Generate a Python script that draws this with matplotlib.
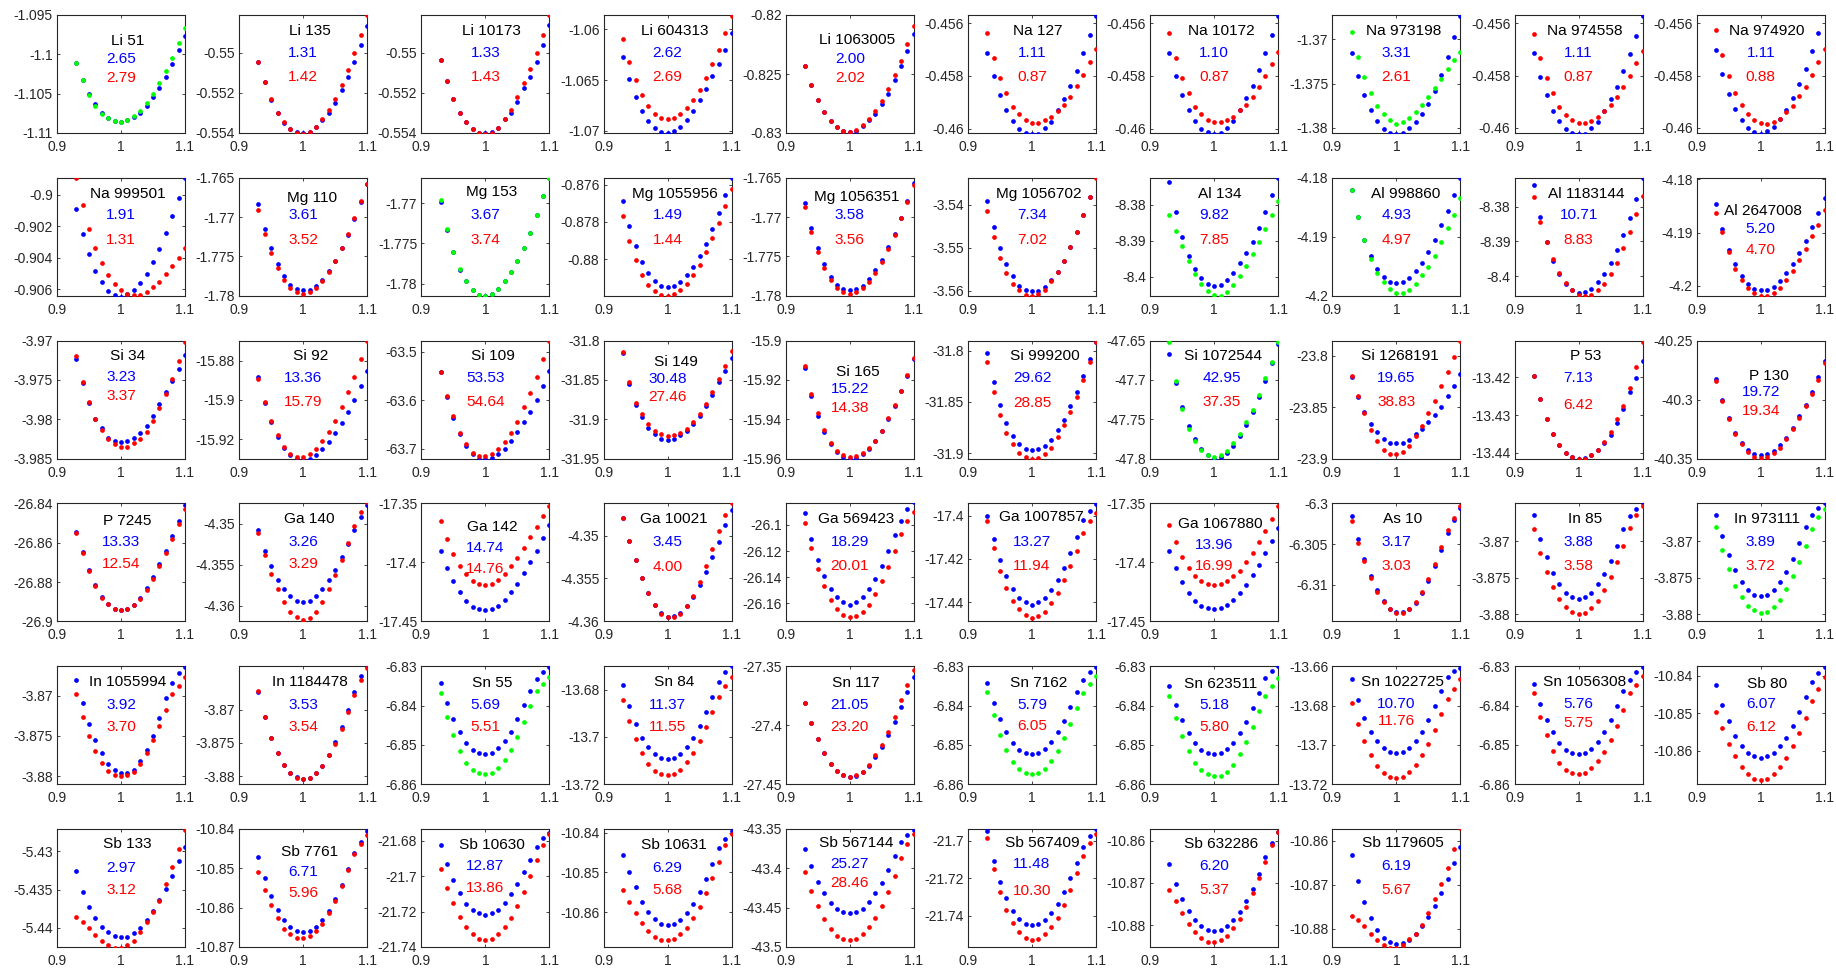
import matplotlib
matplotlib.use("Agg")
import matplotlib.pyplot as plt

# lattice scale factor (x axis)
scale = [0.93, 0.94, 0.95, 0.96, 0.97, 0.98, 0.99, 1.00, 1.01,
         1.02, 1.03, 1.04, 1.05, 1.06, 1.07, 1.08, 1.09, 1.10]

panel_names = [
    "Li 51", "Li 135", "Li 10173", "Li 604313", "Li 1063005",
    "Na 127", "Na 10172", "Na 973198", "Na 974558", "Na 974920",
    "Na 999501", "Mg 110", "Mg 153", "Mg 1055956", "Mg 1056351",
    "Mg 1056702", "Al 134", "Al 998860", "Al 1183144", "Al 2647008",
    "Si 34", "Si 92", "Si 109", "Si 149", "Si 165",
    "Si 999200", "Si 1072544", "Si 1268191", "P 53", "P 130",
    "P 7245", "Ga 140", "Ga 142", "Ga 10021", "Ga 569423",
    "Ga 1007857", "Ga 1067880", "As 10", "In 85", "In 973111",
    "In 1055994", "In 1184478", "Sn 55", "Sn 84", "Sn 117",
    "Sn 7162", "Sn 623511", "Sn 1022725", "Sn 1056308", "Sb 80",
    "Sb 133", "Sb 7761", "Sb 10630", "Sb 10631", "Sb 567144",
    "Sb 567409", "Sb 632286", "Sb 1179605",
]

bulk_blue = [2.65, 1.31, 1.33, 2.62, 2.00, 1.11, 1.10, 3.31, 1.11, 1.11,
             1.91, 3.61, 3.67, 1.49, 3.58, 7.34, 9.82, 4.93, 10.71, 5.20,
             3.23, 13.36, 53.53, 30.48, 15.22, 29.62, 42.95, 19.65, 7.13, 19.72,
             13.33, 3.26, 14.74, 3.45, 18.29, 13.27, 13.96, 3.17, 3.88, 3.89,
             3.92, 3.53, 5.69, 11.37, 21.05, 5.79, 5.18, 10.70, 5.76, 6.07,
             2.97, 6.71, 12.87, 6.29, 25.27, 11.48, 6.20, 6.19]

bulk_red = [2.79, 1.42, 1.43, 2.69, 2.02, 0.87, 0.87, 2.61, 0.87, 0.88,
            1.31, 3.52, 3.74, 1.44, 3.56, 7.02, 7.85, 4.97, 8.83, 4.70,
            3.37, 15.79, 54.64, 27.46, 14.38, 28.85, 37.35, 38.83, 6.42, 19.34,
            12.54, 3.29, 14.76, 4.00, 20.01, 11.94, 16.99, 3.03, 3.58, 3.72,
            3.70, 3.54, 5.51, 11.55, 23.20, 6.05, 5.80, 11.76, 5.75, 6.12,
            3.12, 5.96, 13.86, 5.68, 28.46, 10.30, 5.37, 5.67]

# second series colour: 'r' red, 'g' green
second_color = ["g", "r", "r", "r", "r", "r", "r", "g", "r", "r",
                "r", "r", "g", "r", "r", "r", "g", "g", "r", "r",
                "r", "r", "r", "r", "r", "r", "g", "r", "r", "r",
                "r", "r", "r", "r", "r", "r", "r", "r", "r", "g",
                "r", "r", "g", "r", "r", "g", "g", "r", "r", "r",
                "r", "r", "r", "r", "r", "r", "r", "r"]

# reference energy (lower axis limit) and upper axis limit, eV
e_base = [-1.11, -0.554, -0.554, -1.0702, -0.83, -0.46017, -0.46017, -1.3806, -0.4602, -0.4602,
          -0.90643, -1.78, -1.7815, -0.88196, -1.78, -3.5612, -8.4053, -4.2, -8.4056, -4.2019,
          -3.985, -15.9299, -63.7207, -31.95, -15.96, -31.9052, -47.8, -23.9, -13.4416, -40.35,
          -26.9, -4.3619, -17.45, -4.36, -26.1738, -17.4489, -17.45, -6.3145, -3.881, -3.881,
          -3.881, -3.8812, -6.86, -13.72, -27.45, -6.86, -6.86, -13.72, -6.86, -10.8689,
          -5.4425, -10.87, -21.74, -10.8688, -43.5, -21.7568, -10.8852, -10.8842]

e_top = [-1.095, -0.5481, -0.5481, -1.0586, -0.82, -0.45568, -0.45568, -1.36723, -0.45568, -0.45568,
         -0.89892, -1.765, -1.76684, -0.87564, -1.765, -3.53368, -8.37245, -4.18, -8.37175, -4.17968,
         -3.97, -15.8698, -63.4772, -31.8, -15.9, -31.7902, -47.65, -23.7854, -13.4102, -40.25,
         -26.84, -4.34751, -17.35, -4.34625, -26.0835, -17.3944, -17.35, -6.3, -3.86477, -3.86477,
         -3.86635, -3.86347, -6.83, -13.67, -27.35, -6.83, -6.83, -13.66, -6.83, -10.8374,
         -5.4271, -10.84, -21.6735, -10.8391, -43.35, -21.6938, -10.8572, -10.8573]

y_ticks = [
    [-1.11, -1.105, -1.1, -1.095], [-0.554, -0.552, -0.55], [-0.554, -0.552, -0.55],
    [-1.07, -1.065, -1.06], [-0.83, -0.825, -0.82], [-0.46, -0.458, -0.456],
    [-0.46, -0.458, -0.456], [-1.38, -1.375, -1.37], [-0.46, -0.458, -0.456],
    [-0.46, -0.458, -0.456],
    [-0.906, -0.904, -0.902, -0.9], [-1.78, -1.775, -1.77, -1.765], [-1.78, -1.775, -1.77],
    [-0.88, -0.878, -0.876], [-1.78, -1.775, -1.77, -1.765], [-3.56, -3.55, -3.54],
    [-8.4, -8.39, -8.38], [-4.2, -4.19, -4.18], [-8.4, -8.39, -8.38], [-4.2, -4.19, -4.18],
    [-3.985, -3.98, -3.975, -3.97], [-15.92, -15.9, -15.88], [-63.7, -63.6, -63.5],
    [-31.95, -31.9, -31.85, -31.8], [-15.96, -15.94, -15.92, -15.9], [-31.9, -31.85, -31.8],
    [-47.8, -47.75, -47.7, -47.65], [-23.9, -23.85, -23.8], [-13.44, -13.43, -13.42],
    [-40.35, -40.3, -40.25],
    [-26.9, -26.88, -26.86, -26.84], [-4.36, -4.355, -4.35], [-17.45, -17.4, -17.35],
    [-4.36, -4.355, -4.35], [-26.16, -26.14, -26.12, -26.1], [-17.44, -17.42, -17.4],
    [-17.45, -17.4, -17.35], [-6.31, -6.305, -6.3], [-3.88, -3.875, -3.87],
    [-3.88, -3.875, -3.87],
    [-3.88, -3.875, -3.87], [-3.88, -3.875, -3.87], [-6.86, -6.85, -6.84, -6.83],
    [-13.72, -13.7, -13.68], [-27.45, -27.4, -27.35], [-6.86, -6.85, -6.84, -6.83],
    [-6.86, -6.85, -6.84, -6.83], [-13.72, -13.7, -13.68, -13.66],
    [-6.86, -6.85, -6.84, -6.83], [-10.86, -10.85, -10.84],
    [-5.44, -5.435, -5.43], [-10.87, -10.86, -10.85, -10.84], [-21.74, -21.72, -21.7, -21.68],
    [-10.86, -10.85, -10.84], [-43.5, -43.45, -43.4, -43.35], [-21.74, -21.72, -21.7],
    [-10.88, -10.87, -10.86], [-10.88, -10.87, -10.86],
]

# energies of the blue series, meV above e_base
blue_mev = [
    [8.92, 6.71, 5.0, 3.7, 2.6, 1.9, 1.5, 1.42, 1.6, 2.0, 2.59, 3.48, 4.55, 5.78, 7.18, 8.8, 10.5, 12.37],
    [3.55, 2.55, 1.66, 1.0, 0.52, 0.2, 0.03, 0.0, 0.06, 0.28, 0.66, 1.01, 1.51, 2.13, 2.78, 3.56, 4.41, 5.33],
    [3.64, 2.58, 1.70, 1.01, 0.53, 0.21, 0.01, -0.02, 0.03, 0.27, 0.70, 1.01, 1.56, 2.23, 2.78, 3.57, 4.41, 5.42],
    [7.43, 5.26, 3.55, 2.17, 1.18, 0.53, 0.07, 0.0, 0.16, 0.59, 1.25, 2.17, 3.22, 4.37, 5.59, 6.83, 8.15, 9.79],
    [5.67, 4.05, 2.78, 1.76, 1.02, 0.51, 0.14, 0.06, 0.2, 0.57, 1.1, 1.64, 2.44, 3.34, 4.48, 5.67, 6.97, 8.39],
    [3.05, 2.16, 1.44, 0.86, 0.46, 0.17, 0.0, -0.05, -0.03, 0.18, 0.43, 0.86, 1.31, 1.78, 2.37, 3.03, 3.73, 4.46],
    [3.05, 2.16, 1.44, 0.86, 0.46, 0.17, 0.02, -0.03, 0.0, 0.2, 0.45, 0.88, 1.33, 1.8, 2.38, 3.03, 3.73, 4.46],
    [9.11, 6.45, 4.29, 2.58, 1.37, 0.49, 0.0, -0.15, 0.0, 0.53, 1.2, 2.1, 3.3, 4.8, 6.6, 8.6, 10.9, 13.3],
    [3.05, 2.16, 1.44, 0.86, 0.46, 0.17, 0.0, -0.05, -0.03, 0.18, 0.43, 0.86, 1.31, 1.78, 2.37, 3.03, 3.73, 4.48],
    [3.17, 2.25, 1.48, 0.92, 0.48, 0.2, 0.03, -0.03, 0.07, 0.24, 0.55, 0.88, 1.35, 1.86, 2.46, 3.14, 3.84, 4.62],
    [5.53, 3.92, 2.63, 1.61, 0.86, 0.32, 0.04, -0.06, 0.11, 0.37, 0.80, 1.4, 2.13, 2.99, 3.98, 5.06, 6.24, 7.51],
    [11.64, 8.53, 6.03, 4.09, 2.5, 1.42, 0.86, 0.69, 0.78, 1.29, 2.07, 3.15, 4.44, 6.03, 7.76, 9.74, 11.9, 14.2],
    [11.64, 8.14, 5.4, 3.25, 1.8, 0.76, 0.15, 0.0, 0.25, 0.84, 1.81, 2.95, 4.34, 5.91, 7.85, 10.04, 12.36, 14.68],
    [5.08, 3.74, 2.65, 1.82, 1.2, 0.78, 0.54, 0.47, 0.51, 0.73, 1.09, 1.56, 2.11, 2.78, 3.56, 4.41, 5.38, 6.32],
    [11.77, 8.62, 6.03, 4.01, 2.41, 1.42, 0.86, 0.69, 0.86, 1.29, 2.16, 3.28, 4.57, 6.16, 7.89, 9.91, 12.07, 14.35],
    [22.1, 16.0, 11.1, 7.35, 4.58, 2.37, 1.26, 1.03, 1.19, 2.05, 3.63, 5.53, 8.14, 11.3, 14.85, 18.8, 23.1, 27.6],
    [31.67, 23.19, 16.3, 11.12, 7.35, 5.0, 3.39, 2.83, 3.11, 4.34, 6.41, 9.05, 11.88, 15.08, 18.85, 23.37, 28.09, 32.8],
    [17.99, 13.39, 9.54, 6.67, 4.6, 3.22, 2.41, 2.18, 2.41, 3.05, 4.2, 5.63, 7.47, 9.54, 11.95, 14.37, 17.01, 20.0],
    [31.75, 22.69, 15.39, 10.03, 6.14, 3.51, 1.75, 0.78, 0.97, 1.95, 3.9, 6.14, 9.35, 13.25, 17.53, 22.4, 27.86, 33.9],
    [17.23, 12.63, 8.68, 5.93, 3.7, 2.3, 1.28, 1.02, 1.15, 1.66, 2.74, 4.21, 5.93, 8.04, 10.4, 12.95, 15.5, 18.5],
    [12.66, 9.61, 7.06, 5.01, 3.83, 2.68, 2.25, 2.13, 2.25, 2.68, 3.23, 4.17, 5.44, 6.93, 8.5, 9.9, 11.39, 13.18],
    [41.38, 28.27, 18.39, 11.24, 5.62, 1.7, 0.0, -0.68, 0.0, 1.7, 4.77, 8.52, 12.94, 18.05, 23.84, 29.97, 36.78, 44.79],
    [178.0, 126.2, 84.8, 50.4, 26.2, 9.0, 0.0, -1.4, 1.4, 9.0, 20.7, 36.6, 55.2, 74.5, 96.6, 121.4, 150.4, 181.4],
    [134.0, 95.0, 68.0, 53.5, 39.5, 31.0, 25.5, 23.8, 25.5, 29.7, 35.3, 43.8, 54.4, 67.1, 80.7, 96.9, 111.7, 127.5],
    [45.9, 31.6, 21.8, 13.3, 7.31, 3.4, 1.02, 0.0, 0.51, 2.21, 5.1, 8.84, 13.9, 20.1, 26.9, 34.2, 42.2, 50.7],
    [103.0, 74.9, 52.1, 34.5, 22.2, 14.0, 9.8, 8.5, 9.1, 12.4, 18.2, 28.0, 37.8, 50.8, 65.2, 80.1, 97.1, 114.0],
    [133.0, 96.0, 65.0, 41.6, 24.6, 12.7, 5.0, 0.0, 1.5, 7.5, 16.5, 28.5, 43.0, 59.5, 78.0, 99.0, 121.0, 146.0],
    [78.9, 59.4, 45.4, 33.4, 26.0, 19.5, 15.6, 14.9, 15.6, 18.2, 23.7, 29.2, 35.1, 42.2, 49.7, 60.4, 70.8, 82.1],
    [21.9, 15.8, 10.5, 6.5, 3.56, 1.42, 0.44, 0.0, 0.18, 0.89, 2.31, 4.27, 6.23, 9.4, 13.2, 17.6, 21.4, 26.0],
    [67.4, 49.9, 34.8, 22.1, 13.6, 7.4, 3.7, 2.8, 3.7, 6.5, 11.3, 17.8, 26.3, 35.7, 45.6, 56.1, 68.8, 83.0],
    [45.5, 35.2, 26.2, 18.5, 12.5, 8.8, 6.4, 5.8, 6.4, 8.5, 12.0, 16.8, 22.5, 29.0, 36.0, 43.5, 51.0, 59.0],
    [11.2, 8.63, 6.77, 5.06, 3.92, 3.06, 2.49, 2.34, 2.49, 3.06, 3.9, 5.0, 6.3, 7.8, 9.4, 11.1, 12.7, 14.2],
    [59.9, 45.0, 34.1, 25.2, 17.3, 12.3, 10.3, 9.3, 10.3, 13.3, 18.3, 25.2, 32.1, 41.1, 50.0, 59.9, 70.8, 81.7],
    [12.0, 9.4, 7.1, 5.0, 3.3, 1.9, 0.95, 0.55, 0.6, 1.0, 1.8, 2.8, 4.2, 5.8, 7.5, 9.3, 11.2, 13.0],
    [82.8, 63.1, 46.9, 34.4, 24.5, 18.3, 14.7, 12.9, 14.7, 18.3, 24.5, 32.6, 42.5, 54.2, 65.8, 77.0, 86.0, 91.0],
    [48.9, 38.1, 28.3, 20.8, 14.8, 11.0, 8.9, 7.8, 8.9, 11.0, 14.3, 19.2, 24.6, 31.6, 39.1, 46.7, 51.0, 54.3],
    [59.9, 45.0, 33.1, 24.2, 17.3, 13.3, 11.3, 10.3, 11.3, 14.3, 18.3, 24.2, 31.1, 39.1, 48.0, 57.9, 67.8, 78.8],
    [12.9, 10.1, 7.7, 5.6, 3.8, 2.45, 1.55, 1.1, 1.1, 1.5, 2.3, 3.5, 5.0, 6.8, 8.8, 10.9, 12.4, 13.9],
    [14.62, 11.38, 8.8, 6.69, 5.08, 3.95, 3.3, 3.14, 3.3, 3.95, 5.08, 6.53, 8.31, 10.41, 12.68, 14.46, 15.43, 16.24],
    [14.62, 11.7, 9.12, 7.02, 5.4, 4.27, 3.62, 3.46, 3.62, 4.27, 5.4, 6.86, 8.64, 10.74, 13.0, 14.62, 15.59, 16.24],
    [12.97, 10.08, 7.47, 5.44, 3.85, 2.55, 1.82, 1.39, 1.39, 1.82, 2.84, 4.29, 6.02, 8.19, 10.66, 12.54, 13.84, 14.57],
    [13.9, 10.1, 6.95, 4.7, 2.95, 1.75, 1.05, 0.85, 1.0, 1.7, 2.8, 4.4, 6.3, 8.6, 11.1, 13.8, 16.2, 17.7],
    [25.8, 20.7, 16.5, 13.3, 10.6, 8.8, 7.9, 7.6, 7.9, 9.1, 10.9, 13.3, 16.5, 20.1, 23.7, 26.7, 28.5, 29.9],
    [42.0, 33.0, 25.6, 19.6, 15.7, 12.7, 11.2, 10.7, 11.2, 12.7, 15.7, 19.6, 24.6, 30.6, 37.0, 43.4, 47.4, 50.0],
    [69.0, 52.2, 38.3, 26.4, 17.5, 11.5, 7.5, 6.3, 7.2, 10.0, 15.6, 23.0, 31.5, 41.5, 53.0, 65.5, 78.5, 91.0],
    [25.8, 20.7, 16.5, 13.3, 10.6, 8.8, 7.9, 7.6, 7.9, 9.0, 10.8, 13.2, 16.1, 19.6, 23.4, 26.5, 28.6, 29.9],
    [25.0, 20.2, 16.2, 13.0, 10.5, 8.8, 7.9, 7.6, 7.9, 8.9, 10.6, 13.0, 15.9, 19.4, 23.2, 26.9, 28.8, 30.0],
    [53.3, 42.6, 33.7, 26.5, 21.8, 18.2, 16.4, 15.8, 16.4, 18.2, 21.8, 26.5, 32.5, 39.6, 47.2, 54.5, 57.4, 59.3],
    [25.5, 20.5, 16.4, 13.2, 10.6, 8.8, 7.9, 7.6, 7.9, 9.0, 10.8, 13.2, 16.2, 19.8, 23.6, 26.6, 28.5, 29.9],
    [26.4, 21.1, 16.8, 13.0, 10.2, 8.3, 7.4, 7.1, 7.4, 8.3, 10.2, 12.4, 15.5, 19.3, 23.3, 27.4, 29.6, 31.4],
    [9.93, 7.24, 5.25, 3.75, 2.65, 1.94, 1.46, 1.32, 1.37, 1.77, 2.52, 3.49, 4.72, 6.18, 7.59, 9.31, 11.16, 13.11],
    [22.9, 17.5, 13.0, 9.5, 6.8, 5.0, 4.1, 3.8, 4.1, 5.0, 6.8, 9.2, 12.1, 15.7, 19.9, 24.0, 26.7, 29.4],
    [57.3, 46.7, 37.5, 30.2, 24.3, 21.0, 19.0, 18.3, 19.0, 21.0, 25.0, 29.6, 35.5, 42.1, 49.3, 56.6, 61.2, 64.5],
    [23.2, 18.8, 15.0, 11.4, 8.8, 7.0, 5.8, 5.5, 5.8, 6.7, 8.5, 10.8, 13.8, 17.0, 20.9, 25.0, 27.3, 29.1],
    [124.7, 102.4, 83.0, 68.2, 56.2, 48.8, 44.3, 42.9, 44.3, 48.8, 57.7, 68.2, 81.5, 97.9, 115.8, 133.6, 142.5, 148.5],
    [61.8, 46.1, 34.9, 26.1, 19.3, 14.9, 12.4, 11.8, 12.4, 14.3, 18.0, 23.0, 29.3, 36.8, 44.9, 53.6, 59.3, 63.0],
    [19.7, 14.9, 11.3, 8.6, 6.3, 4.9, 4.1, 3.8, 4.1, 4.9, 6.3, 8.3, 10.8, 13.8, 17.4, 21.3, 24.7, 27.4],
    [20.97, 15.13, 10.21, 6.63, 3.9, 2.1, 1.09, 0.7, 0.86, 1.64, 3.04, 4.68, 6.78, 9.36, 12.24, 15.52, 19.1, 22.77],
]

# energies of the second (red / green) series, meV above e_base
red_mev = [
    [8.92, 6.71, 4.89, 3.48, 2.46, 1.87, 1.49, 1.44, 1.70, 2.17, 2.85, 3.87, 5.01, 6.33, 7.9, 9.56, 11.39, 13.3],
    [3.57, 2.57, 1.68, 1.02, 0.54, 0.20, 0.0, -0.05, 0.05, 0.29, 0.69, 1.14, 1.71, 2.40, 3.15, 3.99, 4.91, 5.89],
    [3.66, 2.60, 1.71, 1.02, 0.54, 0.22, 0.0, -0.03, 0.02, 0.27, 0.72, 1.17, 1.81, 2.48, 3.19, 3.99, 4.91, 5.92],
    [9.2, 7.0, 5.19, 3.78, 2.63, 1.91, 1.51, 1.41, 1.51, 1.91, 2.50, 3.22, 4.27, 5.45, 6.77, 8.2, 9.8, 11.5],
    [5.67, 4.05, 2.78, 1.76, 1.02, 0.51, 0.17, 0.11, 0.28, 0.65, 1.22, 1.87, 2.72, 3.77, 4.9, 6.12, 7.54, 9.07],
    [3.82, 2.87, 2.11, 1.53, 0.99, 0.71, 0.51, 0.38, 0.38, 0.48, 0.59, 0.84, 1.06, 1.37, 1.78, 2.2, 2.71, 3.18],
    [3.8, 2.86, 2.1, 1.52, 0.99, 0.71, 0.51, 0.4, 0.4, 0.48, 0.62, 0.86, 1.08, 1.38, 1.76, 2.15, 2.62, 3.08],
    [11.39, 8.58, 6.30, 4.56, 3.04, 2.13, 1.44, 1.06, 1.21, 1.67, 2.35, 3.19, 4.10, 5.09, 6.15, 7.25, 8.28, 9.22],
    [3.8, 2.86, 2.1, 1.52, 1.0, 0.7, 0.5, 0.37, 0.37, 0.46, 0.6, 0.85, 1.08, 1.38, 1.78, 2.2, 2.68, 3.14],
    [3.93, 2.97, 2.19, 1.55, 1.07, 0.72, 0.5, 0.37, 0.35, 0.43, 0.55, 0.79, 1.05, 1.4, 1.77, 2.23, 2.71, 3.21],
    [7.47, 5.75, 4.28, 3.06, 2.09, 1.33, 0.75, 0.37, 0.11, 0.02, 0.06, 0.26, 0.58, 0.9, 1.4, 1.87, 2.41, 3.06],
    [10.9, 7.89, 5.43, 3.58, 2.07, 0.99, 0.43, 0.26, 0.43, 0.99, 1.85, 3.02, 4.4, 6.03, 7.89, 9.91, 12.07, 14.2],
    [11.94, 8.35, 5.48, 3.29, 1.81, 0.76, 0.13, 0.0, 0.25, 0.84, 1.81, 2.95, 4.34, 5.91, 7.85, 10.04, 12.36, 14.68],
    [4.29, 2.91, 1.92, 1.14, 0.6, 0.24, 0.04, 0.0, 0.07, 0.29, 0.65, 1.09, 1.63, 2.32, 3.09, 3.92, 4.83, 5.74],
    [11.34, 8.10, 5.52, 3.58, 2.07, 0.99, 0.43, 0.26, 0.43, 0.99, 1.81, 2.93, 4.31, 5.95, 7.76, 9.83, 11.9, 14.05],
    [19.75, 13.67, 8.93, 5.37, 2.84, 1.26, 0.24, 0.0, 0.4, 1.42, 3.4, 5.53, 8.14, 11.3, 14.85, 18.8, 23.1, 27.5],
    [22.5, 18.0, 13.8, 9.8, 6.2, 3.3, 1.2, 0.1, 0.0, 1.0, 2.9, 5.4, 8.3, 11.5, 15.0, 18.7, 22.5, 26.4],
    [17.99, 13.39, 9.54, 6.21, 3.91, 2.3, 1.15, 0.46, 0.46, 1.03, 2.07, 3.45, 4.94, 6.78, 9.08, 11.49, 13.68, 16.55],
    [28.25, 21.23, 15.39, 10.52, 6.62, 3.7, 1.56, 0.29, 0.0, 0.29, 1.56, 3.51, 6.14, 9.55, 13.64, 18.31, 23.38, 28.54],
    [15.5, 12.0, 8.29, 5.1, 2.93, 1.47, 0.51, 0.0, 0.0, 0.51, 1.47, 2.93, 4.66, 6.76, 8.8, 11.23, 13.4, 16.14],
    [13.0, 9.78, 7.14, 5.01, 3.65, 2.55, 1.83, 1.53, 1.53, 1.96, 2.47, 3.4, 4.8, 6.38, 8.2, 10.12, 12.45, 14.79],
    [40.5, 28.95, 19.24, 11.92, 6.13, 2.21, 1.02, 1.02, 2.21, 5.11, 9.03, 13.62, 19.24, 26.06, 33.72, 41.38, 50.75, 60.1],
    [178.0, 128.3, 86.9, 52.4, 29.7, 12.4, 5.5, 5.5, 9.0, 19.3, 34.5, 52.4, 75.9, 105.5, 135.2, 167.6, 205.6, 243.5],
    [135.0, 97.0, 70.5, 56.5, 43.8, 35.3, 31.0, 28.9, 29.7, 32.3, 38.2, 45.9, 56.5, 69.3, 85.0, 101.1, 118.1, 137.2],
    [46.9, 32.8, 23.1, 14.6, 8.16, 3.91, 1.7, 1.02, 1.36, 3.06, 5.61, 9.01, 14.1, 20.4, 27.2, 34.5, 42.5, 51.0],
    [94.5, 65.2, 42.4, 25.4, 14.0, 5.9, 2.0, 0.0, 1.0, 4.2, 10.8, 21.5, 32.6, 45.6, 59.6, 76.9, 94.5, 113.4],
    [148.7, 99.0, 62.9, 38.2, 22.5, 11.0, 4.2, 2.5, 4.2, 9.8, 19.5, 31.0, 45.9, 62.0, 80.7, 102.0, 123.2, 148.7],
    [79.9, 60.4, 44.1, 27.9, 17.2, 8.4, 4.2, 4.2, 6.5, 12.3, 22.1, 31.8, 44.1, 56.2, 70.8, 83.7, 98.4, 114.6],
    [21.9, 15.8, 10.5, 6.5, 3.56, 1.42, 0.44, -0.18, 0.0, 0.89, 2.31, 4.45, 7.12, 10.5, 14.1, 18.7, 24.3, 31.1],
    [66.0, 49.0, 33.4, 20.7, 12.2, 5.7, 1.7, 0.85, 1.7, 4.5, 9.4, 16.4, 24.9, 34.8, 44.8, 54.7, 66.9, 81.0],
    [44.9, 34.7, 25.8, 18.1, 12.1, 8.6, 6.2, 5.6, 6.2, 8.2, 11.6, 16.2, 21.8, 28.0, 34.8, 42.0, 49.5, 57.0],
    [10.77, 8.06, 5.77, 3.92, 2.34, 1.2, 0.49, 0.2, 0.45, 1.2, 2.4, 3.9, 5.6, 7.5, 9.6, 11.6, 13.3, 14.5],
    [84.7, 70.0, 56.9, 47.0, 40.1, 34.1, 32.1, 31.1, 32.1, 35.1, 40.1, 47.0, 54.0, 61.9, 71.8, 79.8, 89.7, 97.6],
    [12.0, 9.4, 7.1, 5.0, 3.3, 1.9, 0.9, 0.5, 0.5, 0.9, 1.8, 3.0, 4.6, 6.4, 8.4, 10.5, 12.4, 13.8],
    [75.6, 55.9, 39.8, 27.2, 16.5, 9.3, 4.8, 3.0, 3.9, 7.5, 12.9, 21.0, 30.8, 41.6, 54.2, 66.6, 76.5, 83.6],
    [46.2, 33.7, 23.5, 15.4, 9.4, 5.6, 2.9, 1.8, 2.4, 4.5, 8.3, 13.2, 19.2, 25.6, 32.7, 40.8, 46.2, 50.0],
    [81.7, 66.9, 55.0, 45.0, 38.1, 34.1, 32.1, 31.1, 32.1, 34.1, 38.1, 43.0, 50.0, 57.9, 66.9, 76.8, 86.7, 97.6],
    [12.28, 9.69, 7.39, 5.38, 3.65, 2.36, 1.5, 1.06, 1.06, 1.5, 2.36, 3.65, 5.23, 7.1, 9.12, 11.27, 12.71, 14.15],
    [12.68, 9.44, 6.86, 4.75, 3.14, 2.0, 1.36, 1.03, 1.2, 1.84, 2.81, 4.27, 6.05, 8.15, 10.41, 12.84, 14.62, 15.91],
    [13.0, 9.77, 7.18, 4.92, 3.3, 2.17, 1.52, 1.2, 1.36, 2.0, 2.98, 4.43, 6.21, 8.15, 10.41, 12.68, 14.3, 15.43],
    [11.24, 8.34, 6.02, 4.14, 2.69, 1.68, 1.1, 0.96, 1.1, 1.53, 2.55, 3.85, 5.44, 7.18, 9.21, 11.24, 12.25, 13.26],
    [13.98, 10.11, 6.95, 4.67, 2.91, 1.69, 0.98, 0.81, 0.98, 1.69, 2.74, 4.32, 6.08, 8.36, 10.82, 13.45, 15.73, 17.49],
    [23.1, 17.1, 12.4, 8.5, 5.5, 3.7, 2.9, 2.6, 2.9, 4.0, 6.1, 8.8, 12.1, 15.7, 19.8, 23.7, 25.5, 27.3],
    [35.5, 26.6, 19.1, 13.2, 8.7, 5.8, 4.3, 3.8, 4.3, 6.2, 9.2, 13.2, 18.2, 24.1, 30.6, 37.0, 41.5, 45.4],
    [69.0, 52.2, 38.3, 26.4, 17.5, 11.5, 7.5, 6.5, 7.5, 10.5, 16.5, 24.4, 33.3, 44.2, 57.1, 71.0, 83.9, 96.8],
    [23.4, 17.5, 12.6, 8.7, 5.7, 3.8, 2.9, 2.6, 2.9, 3.9, 5.8, 8.5, 11.8, 15.4, 19.4, 23.3, 25.6, 27.6],
    [22.5, 16.8, 12.2, 8.4, 5.5, 3.6, 2.5, 2.0, 2.2, 3.2, 5.0, 7.6, 10.8, 14.5, 18.5, 22.5, 25.0, 27.0],
    [41.4, 30.7, 21.8, 14.6, 9.3, 5.7, 3.9, 3.3, 3.9, 6.3, 9.9, 14.6, 20.6, 27.7, 35.5, 43.2, 48.6, 53.3],
    [23.1, 17.1, 12.4, 8.5, 5.5, 3.7, 2.9, 2.6, 2.9, 4.0, 5.8, 8.2, 11.2, 14.7, 18.9, 23.1, 25.2, 27.6],
    [19.3, 14.9, 10.8, 7.4, 4.6, 2.7, 1.4, 1.1, 1.4, 2.7, 4.6, 7.1, 10.2, 13.6, 17.7, 22.1, 25.5, 28.6],
    [3.93, 3.22, 2.43, 1.54, 0.75, 0.22, -0.13, -0.13, 0.22, 0.84, 1.94, 3.22, 4.63, 6.05, 8.25, 10.46, 12.8, 15.31],
    [19.0, 14.5, 10.7, 7.4, 4.7, 3.2, 2.3, 2.3, 2.9, 4.1, 5.9, 8.6, 11.8, 15.4, 19.6, 23.7, 26.1, 28.5],
    [44.1, 33.5, 24.9, 17.0, 11.1, 7.1, 4.5, 3.8, 4.5, 7.1, 11.1, 16.4, 23.0, 30.9, 40.1, 49.3, 57.3, 63.9],
    [14.4, 11.4, 8.5, 6.1, 4.1, 2.6, 1.7, 1.7, 2.0, 3.2, 4.9, 7.3, 10.0, 13.5, 17.3, 21.4, 25.6, 28.5],
    [94.9, 71.1, 51.8, 35.4, 23.5, 14.6, 10.1, 8.6, 10.1, 16.1, 25.0, 36.9, 51.8, 69.6, 90.5, 112.8, 130.7, 144.0],
    [58.0, 41.8, 29.3, 19.9, 13.0, 8.0, 4.9, 3.6, 4.3, 6.8, 10.5, 15.5, 22.4, 30.5, 39.3, 48.6, 55.5, 60.5],
    [13.6, 10.8, 8.0, 5.5, 3.6, 2.2, 1.3, 1.3, 1.6, 2.7, 4.4, 6.6, 9.4, 12.7, 16.3, 20.2, 24.1, 27.4],
    [7.17, 6.24, 4.68, 3.04, 1.56, 0.39, -0.23, -0.23, 0.55, 1.72, 3.04, 5.07, 7.8, 10.92, 14.35, 18.09, 22.38, 27.06],
]

# ---- layout of the labels inside each panel (axes fractions, measured from the top) ----
title_x = [0.55, 0.553, 0.548, 0.557, 0.555, 0.545, 0.555, 0.56, 0.55, 0.55,
           0.55, 0.566, 0.548, 0.557, 0.555, 0.555, 0.545, 0.574, 0.562, 0.514,
           0.554, 0.556, 0.557, 0.562, 0.565, 0.598, 0.567, 0.53, 0.556, 0.56,
           0.55, 0.55, 0.55, 0.55, 0.55, 0.575, 0.55, 0.55, 0.55, 0.55,
           0.55, 0.55, 0.55, 0.55, 0.55, 0.55, 0.55, 0.55, 0.55, 0.55,
           0.55, 0.55, 0.55, 0.55, 0.55, 0.58, 0.55, 0.55]
title_y = [0.218, 0.133, 0.133, 0.133, 0.212, 0.133, 0.133, 0.133, 0.133, 0.133,
           0.135, 0.167, 0.121, 0.135, 0.161, 0.135, 0.135, 0.135, 0.135, 0.282,
           0.133, 0.133, 0.133, 0.178, 0.263, 0.133, 0.133, 0.133, 0.133, 0.297,
           0.153, 0.133, 0.202, 0.133, 0.133, 0.113, 0.173, 0.133, 0.133, 0.133,
           0.131, 0.131, 0.141, 0.131, 0.141, 0.141, 0.151, 0.131, 0.131, 0.151,
           0.129, 0.198, 0.139, 0.139, 0.119, 0.119, 0.129, 0.116]
blue_y = [0.374, 0.32, 0.32, 0.32, 0.374, 0.32, 0.32, 0.32, 0.32, 0.32,
          0.316, 0.316, 0.316, 0.316, 0.316, 0.316, 0.316, 0.316, 0.316, 0.431,
          0.312, 0.32, 0.32, 0.326, 0.411, 0.32, 0.32, 0.32, 0.32, 0.439,
          0.331, 0.331, 0.381, 0.331, 0.331, 0.331, 0.351, 0.331, 0.331, 0.331,
          0.329, 0.329, 0.329, 0.329, 0.329, 0.329, 0.329, 0.319, 0.319, 0.319,
          0.327, 0.367, 0.317, 0.327, 0.298, 0.298, 0.317, 0.313]
red_y = [0.53, 0.524, 0.524, 0.524, 0.53, 0.524, 0.524, 0.524, 0.524, 0.524,
         0.523, 0.523, 0.523, 0.523, 0.523, 0.523, 0.523, 0.523, 0.523, 0.609,
         0.473, 0.524, 0.524, 0.482, 0.575, 0.53, 0.524, 0.524, 0.547, 0.595,
         0.51, 0.51, 0.56, 0.54, 0.53, 0.53, 0.53, 0.53, 0.53, 0.53,
         0.518, 0.518, 0.518, 0.518, 0.518, 0.508, 0.518, 0.468, 0.478, 0.518,
         0.516, 0.546, 0.496, 0.516, 0.456, 0.526, 0.516, 0.516]
num_x = [0.5] * 58
num_x[26] = 0.56

FONT = "Liberation Sans"
AX_COL = "#262626"
COLORS = {"r": "#ff0000", "g": "#00ff00"}
TXT_SIZE = 11.1

W, H = 1836, 968
fig = plt.figure(figsize=(W / 100, H / 100), dpi=100)
fig.patch.set_facecolor("white")

for i, name in enumerate(panel_names):
    r, c = divmod(i, 10)
    left = 57 + 182.2 * c
    top = 15 + 162.8 * r
    ax = fig.add_axes([left / W, 1 - (top + 118) / H, 128 / W, 118 / H])

    e_blue = [e_base[i] + v / 1000.0 for v in blue_mev[i]]
    e_red = [e_base[i] + v / 1000.0 for v in red_mev[i]]
    ax.plot(scale, e_blue, "o", ms=3.4, color="#0000ff", mec="none", zorder=3)
    ax.plot(scale, e_red, "o", ms=3.4, color=COLORS[second_color[i]], mec="none", zorder=4)

    ax.set_xlim(0.9, 1.1)
    ax.set_ylim(e_base[i], e_top[i])
    ax.set_xticks([0.9, 1.0, 1.1])
    ax.set_xticklabels(["0.9", "1", "1.1"])
    ax.set_yticks(y_ticks[i])
    ax.set_yticklabels([f"{t:g}" for t in y_ticks[i]])
    ax.tick_params(axis="both", direction="in", length=2.5, width=0.6,
                   colors=AX_COL, labelsize=10, top=True, right=True)
    ax.tick_params(axis="x", pad=5)
    ax.tick_params(axis="y", pad=3)
    for lab in ax.get_xticklabels() + ax.get_yticklabels():
        lab.set_fontfamily(FONT)
        lab.set_color(AX_COL)
    for sp in ax.spines.values():
        sp.set_linewidth(0.8)
        sp.set_color(AX_COL)

    ax.text(title_x[i], 1 - title_y[i], name, transform=ax.transAxes,
            ha="center", va="center", fontsize=TXT_SIZE, color="black", family=FONT, zorder=5)
    ax.text(num_x[i], 1 - blue_y[i], f"{bulk_blue[i]:.2f}", transform=ax.transAxes,
            ha="center", va="center", fontsize=TXT_SIZE, color="#0000ff", family=FONT, zorder=5)
    ax.text(num_x[i], 1 - red_y[i], f"{bulk_red[i]:.2f}", transform=ax.transAxes,
            ha="center", va="center", fontsize=TXT_SIZE, color="#ff0000", family=FONT, zorder=5)

fig.savefig("out.png", dpi=100, facecolor="white")
